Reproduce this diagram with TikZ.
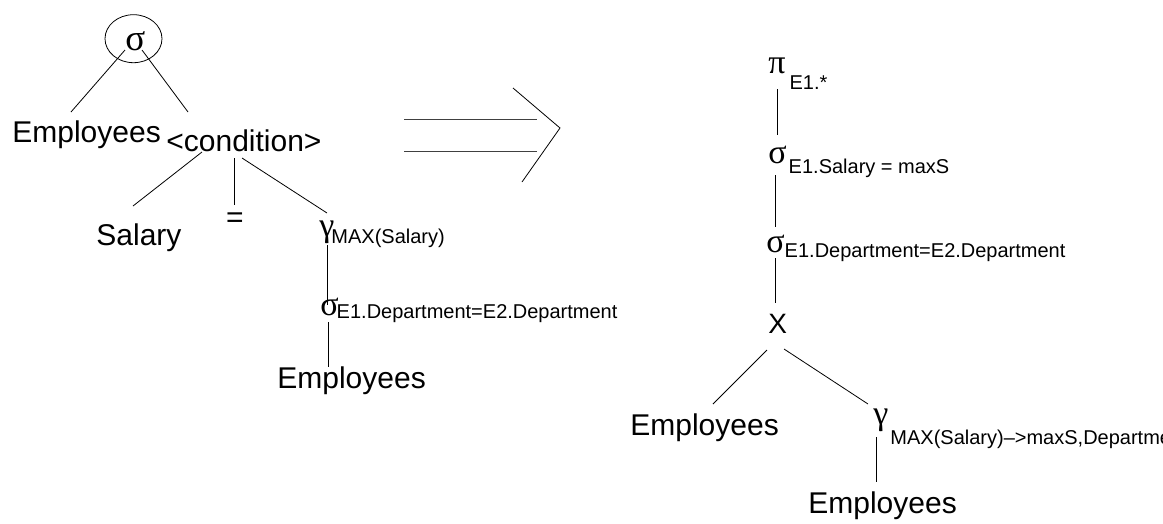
\documentclass[tikz,border=0pt]{standalone}
\usepackage{fontspec}
\setmainfont{Liberation Sans}
\newfontfamily\gk{Liberation Serif}
\usetikzlibrary{shapes.geometric,calc}
\newcommand\bigf{\fontsize{30}{36}\selectfont}
\newcommand\gkf{\gk\fontsize{34}{40}\selectfont}
\newcommand\subf{\normalfont\fontsize{20}{24}\selectfont}
\begin{document}
\begin{tikzpicture}[x=1pt,y=-1pt,line width=0.8pt,
  lbl/.style={inner sep=0,anchor=base west,font=\bigf},
  op/.style={inner sep=0,anchor=base west},
  edge/.style={line width=0.8pt,black}]
\useasboundingbox (0,0) rectangle (1163,523);
\clip (0,0) rectangle (1163,523);
% left tree
\node[draw,ellipse,minimum width=57pt,minimum height=48pt,inner sep=0] (ring) at (133.5,38.7) {};
\node[op,font=\gk\fontsize{37}{44}\selectfont] (sig0) at (125,50) {σ};
\node[lbl] (emp1) at (12,142) {Employees};
\node[lbl] (cond) at (166,151) {<condition>};
\node[lbl] (sal) at (96,245) {Salary};
\node[inner sep=0,font=\bigf] (eq) at (235,220) {=};
\node[op] (gam1) at (319,236) {\gkf γ\kern-3pt\raisebox{-7pt}{\subf MAX(Salary)}};
\node[op] (sig1) at (320,315) {\gkf σ\kern-2pt\raisebox{-3pt}{\subf E1.Department=E2.Department}};
\node[lbl] (emp2) at (277,388) {Employees};
\draw[edge] ($(sig0.base west)+(0,0)$) -- ($(emp1.base west)+(59,-30)$);
\draw[edge] ($(sig0.base west)+(17,0)$) -- ($(cond.base west)+(22,-39)$);
\draw[edge] ($(cond.base west)+(36,1)$) -- ($(sal.base west)+(37,-39)$);
\draw[edge] ($(cond.base west)+(68,7)$) -- ($(eq.center)+(-1,-15)$);
\draw[edge] ($(cond.base west)+(76,7)$) -- ($(gam1.base west)+(8,-23)$);
\draw[edge] ($(gam1.base west)+(8,9)$) -- ($(sig1.base west)+(7,-10)$);
\draw[edge] ($(sig1.base west)+(8,7)$) -- ($(emp2.base west)+(51,-21)$);
% arrow
\draw[black!75] (404,119) -- (537,119);
\draw[black!75] (404,151) -- (537,151);
\draw (513,88) -- (560,128) -- (522,182);
% right tree
\node[op] (pi) at (768,73) {\gkf π\kern4pt\raisebox{-16pt}{\subf E1.*}};
\node[op] (sig2) at (768,163) {\gkf σ\kern2pt\raisebox{-10pt}{\subf E1.Salary = maxS}};
\node[op] (sig3) at (766,252) {\gkf σ\raisebox{-5pt}{\subf E1.Department=E2.Department}};
\node[lbl,font=\fontsize{28}{34}\selectfont] (cross) at (768,333) {X};
\node[lbl] (emp3) at (630,435) {Employees};
\node[op] (gam2) at (873,424) {\gkf γ\kern2pt\raisebox{-20pt}{\subf MAX(Salary)–>maxS,Department}};
\node[lbl] (emp4) at (808,513) {Employees};
\draw[edge] ($(pi.base west)+(9,16)$) -- ($(sig2.base west)+(9,-28)$);
\draw[edge] ($(sig2.base west)+(7,12)$) -- ($(sig3.base west)+(9,-25)$);
\draw[edge] ($(sig3.base west)+(9,6)$) -- ($(cross.base west)+(7,-30)$);
\draw[edge] ($(cross.base west)+(-1,17)$) -- ($(emp3.base west)+(83,-31)$);
\draw[edge] ($(cross.base west)+(16,16)$) -- ($(gam2.base west)+(-5,-20)$);
\draw[edge] ($(gam2.base west)+(3,13)$) -- ($(emp4.base west)+(68,-31)$);
\end{tikzpicture}
\end{document}
